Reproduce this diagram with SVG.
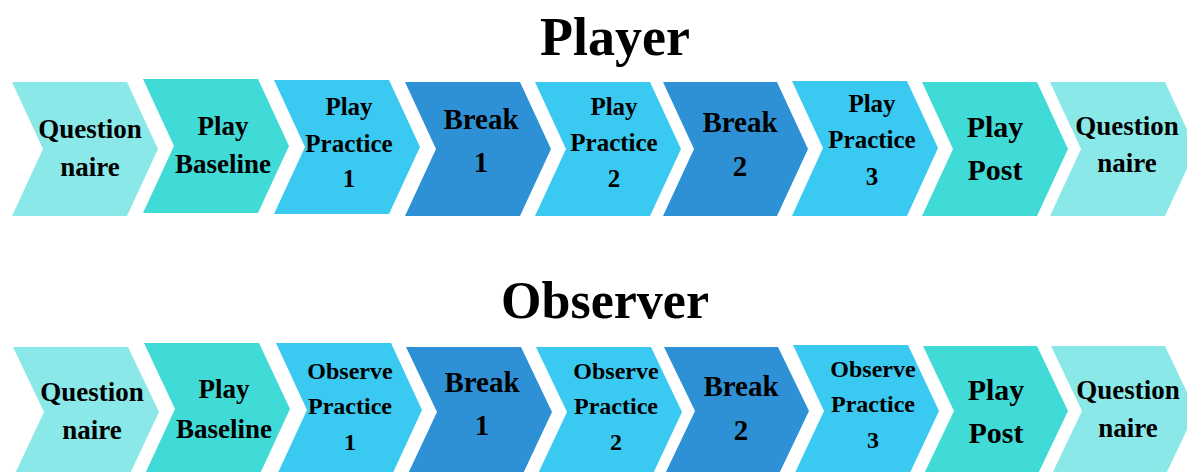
<svg xmlns="http://www.w3.org/2000/svg" width="1187" height="472" viewBox="0 0 1187 472">
  <style>
    .q { fill: #8AE9E8; }
    .p { fill: #41DBD7; }
    .pr { fill: #3AC9F0; }
    .b { fill: #2E91D5; }
    text { font-family: "Liberation Serif", "Times New Roman", serif; font-weight: bold; fill: #000; text-anchor: middle; }
    .title { font-size: 54px; }
    .t27 { font-size: 27px; }
    .t25 { font-size: 25px; }
    .t24 { font-size: 24px; }
    .t29 { font-size: 29px; }
    .t30 { font-size: 30px; }
  </style>

  <rect width="1187" height="472" fill="#fff"/>

  <!-- Row titles -->
  <text id="title-player" class="title" x="615" y="55">Player</text>
  <text id="title-observer" class="title" x="605" y="318" style="font-size:52px">Observer</text>

  <!-- Player sequence -->
  <g id="player-row">
    <g id="p1">
      <polygon class="q" points="12,82 127,82 158,149 127,216 12,216 43,149"/>
      <text class="t27" x="90" y="138">Question</text>
      <text class="t27" x="90" y="176">naire</text>
    </g>
    <g id="p2">
      <polygon class="p" points="143,79 258,79 289,146 258,213 143,213 174,146"/>
      <text class="t27" x="223" y="135">Play</text>
      <text class="t27" x="223" y="173">Baseline</text>
    </g>
    <g id="p3">
      <polygon class="pr" points="274,80 389,80 420,147 389,214 274,214 305,147"/>
      <text class="t25" x="349" y="115">Play</text>
      <text class="t25" x="349" y="152">Practice</text>
      <text class="t25" x="349" y="187">1</text>
    </g>
    <g id="p4">
      <polygon class="b" points="405,82 520,82 551,149 520,216 405,216 436,149"/>
      <text class="t29" x="481" y="129">Break</text>
      <text class="t29" x="481" y="172">1</text>
    </g>
    <g id="p5">
      <polygon class="pr" points="535,82 650,82 681,149 650,216 535,216 566,149"/>
      <text class="t25" x="614" y="115">Play</text>
      <text class="t25" x="614" y="151">Practice</text>
      <text class="t25" x="614" y="187">2</text>
    </g>
    <g id="p6">
      <polygon class="b" points="663,82 777,82 808,149 777,216 663,216 694,149"/>
      <text class="t29" x="740" y="132">Break</text>
      <text class="t29" x="740" y="176">2</text>
    </g>
    <g id="p7">
      <polygon class="pr" points="792,81 907,81 938,148 907,216 792,216 823,148"/>
      <text class="t25" x="872" y="112">Play</text>
      <text class="t25" x="872" y="148">Practice</text>
      <text class="t25" x="872" y="185">3</text>
    </g>
    <g id="p8">
      <polygon class="p" points="922,82 1037,82 1068,149 1037,216 922,216 953,149"/>
      <text class="t30" x="995" y="137">Play</text>
      <text class="t30" x="995" y="180">Post</text>
    </g>
    <g id="p9">
      <polygon class="q" points="1050,82 1165,82 1196,149 1165,216 1050,216 1081,149"/>
      <text class="t27" x="1127" y="135">Question</text>
      <text class="t27" x="1127" y="172">naire</text>
    </g>
  </g>

  <!-- Observer sequence -->
  <g id="observer-row">
    <g id="o1">
      <polygon class="q" points="13,347 128,347 159,412 128,478 13,478 44,412"/>
      <text class="t27" x="92" y="401">Question</text>
      <text class="t27" x="92" y="439">naire</text>
    </g>
    <g id="o2">
      <polygon class="p" points="144,343 259,343 290,409 259,476 144,476 175,409"/>
      <text class="t27" x="224" y="398">Play</text>
      <text class="t27" x="224" y="438">Baseline</text>
    </g>
    <g id="o3">
      <polygon class="pr" points="276,343 391,343 422,410 391,477 276,477 307,410"/>
      <text class="t24" x="350" y="379">Observe</text>
      <text class="t24" x="350" y="414">Practice</text>
      <text class="t24" x="350" y="450">1</text>
    </g>
    <g id="o4">
      <polygon class="b" points="406,347 521,347 552,412 521,478 406,478 437,412"/>
      <text class="t29" x="482" y="392">Break</text>
      <text class="t29" x="482" y="435">1</text>
    </g>
    <g id="o5">
      <polygon class="pr" points="536,347 651,347 682,412 651,478 536,478 567,412"/>
      <text class="t24" x="616" y="379">Observe</text>
      <text class="t24" x="616" y="414">Practice</text>
      <text class="t24" x="616" y="450">2</text>
    </g>
    <g id="o6">
      <polygon class="b" points="664,347 778,347 809,411 778,476 664,476 695,411"/>
      <text class="t29" x="741" y="396">Break</text>
      <text class="t29" x="741" y="440">2</text>
    </g>
    <g id="o7">
      <polygon class="pr" points="793,345 908,345 939,411 908,477 793,477 824,411"/>
      <text class="t24" x="873" y="377">Observe</text>
      <text class="t24" x="873" y="412">Practice</text>
      <text class="t24" x="873" y="448">3</text>
    </g>
    <g id="o8">
      <polygon class="p" points="923,346 1037,346 1068,411 1037,476 923,476 954,411"/>
      <text class="t30" x="996" y="400">Play</text>
      <text class="t30" x="996" y="443">Post</text>
    </g>
    <g id="o9">
      <polygon class="q" points="1051,346 1165,346 1196,411 1165,476 1051,476 1082,411"/>
      <text class="t27" x="1128" y="399">Question</text>
      <text class="t27" x="1128" y="437">naire</text>
    </g>
  </g>
</svg>
